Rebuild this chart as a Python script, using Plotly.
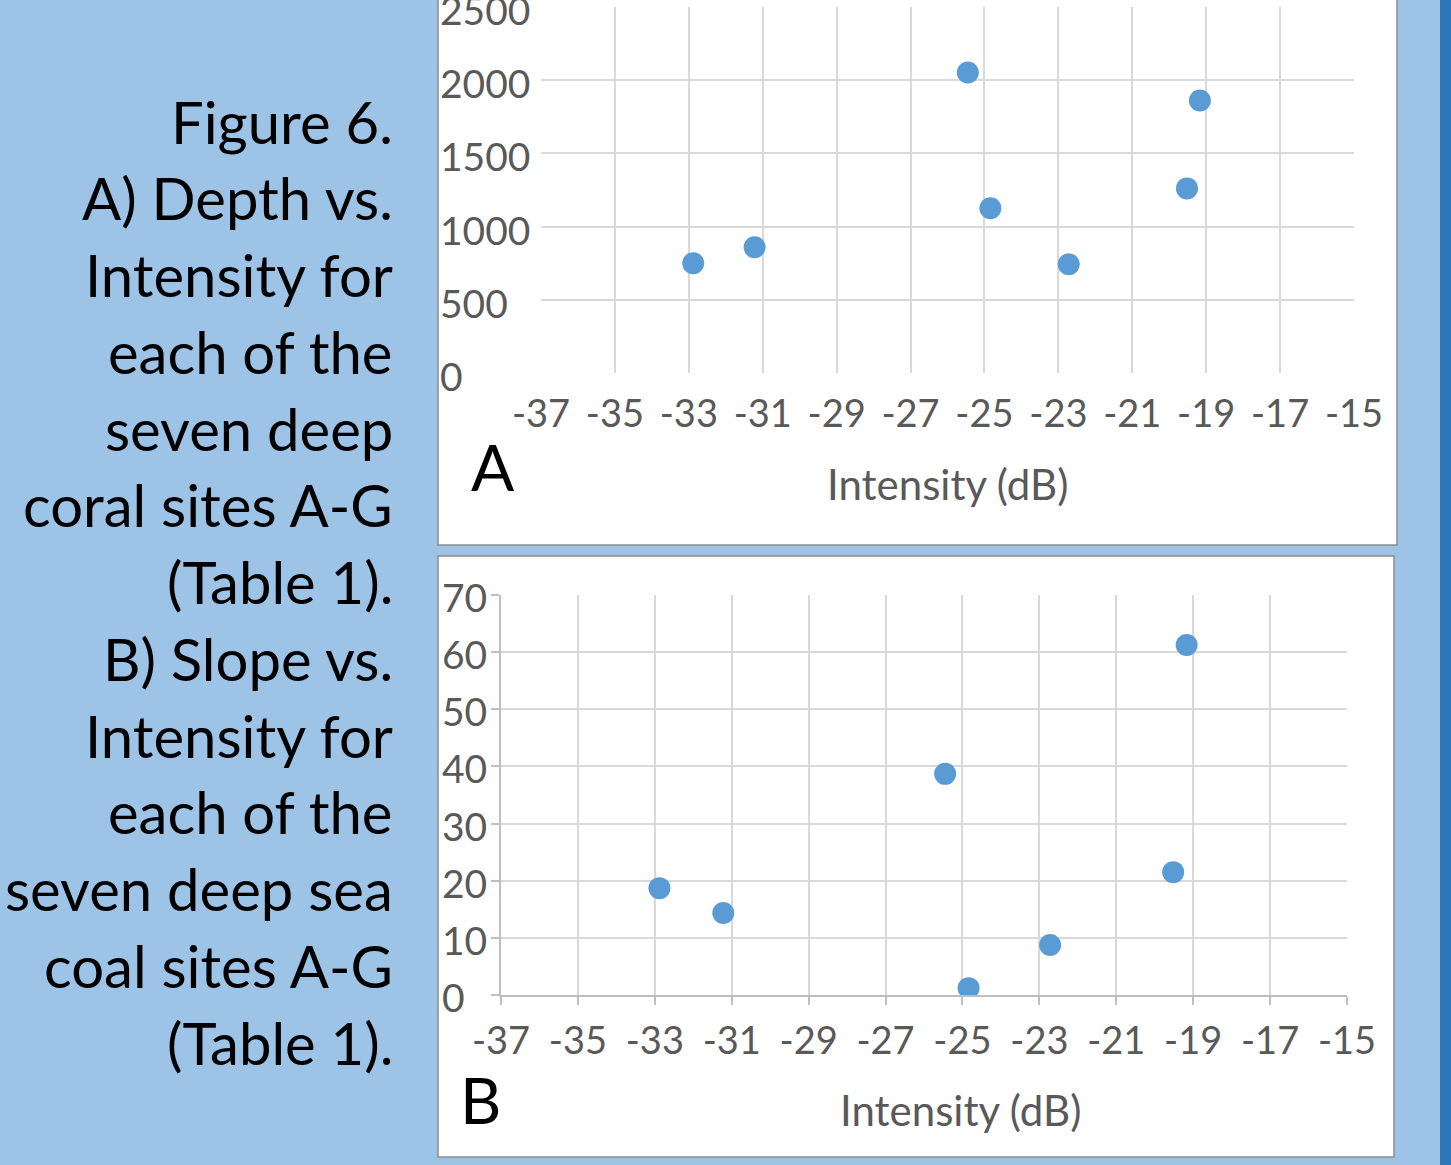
import plotly.graph_objects as go

W, H = 1451, 1165

intensity = [-32.88, -31.22, -25.45, -24.84, -22.72, -19.52, -19.17]
depth = [750, 859, 2052, 1125, 743, 1261, 1861]
slope = [18.7, 14.35, 38.7, 1.2, 8.75, 21.5, 61.25]

x_ticks = [-37, -35, -33, -31, -29, -27, -25, -23, -21, -19, -17, -15]
depth_ticks = [0, 500, 1000, 1500, 2000, 2500]
slope_ticks = [0, 10, 20, 30, 40, 50, 60, 70]

caption_lines = ["Figure 6.", "A) Depth vs.", "Intensity for", "each of the",
                 "seven deep", "coral sites A-G", "(Table 1).", "B) Slope vs.",
                 "Intensity for", "each of the", "seven deep sea", "coal sites A-G",
                 "(Table 1)."]
x_title = "Intensity (dB)"

BG = "#9DC3E6"
DARK = "#2E75B6"
DOT = "#5B9BD5"
GRID = "#D9D9D9"
TXT = "#595959"
FONT = "Lato"

def px(x):
    return x / W

def py(y):
    return 1 - y / H

fig = go.Figure()
fig.add_trace(go.Scatter(x=intensity, y=depth, mode="markers", xaxis="x", yaxis="y",
                         marker=dict(color=DOT, size=22), showlegend=False))
fig.add_trace(go.Scatter(x=intensity, y=slope, mode="markers", xaxis="x2", yaxis="y2",
                         marker=dict(color=DOT, size=22), showlegend=False))

common_x = dict(tickvals=x_ticks, ticktext=[str(v) for v in x_ticks],
                showgrid=True, gridcolor=GRID, gridwidth=1.5, zeroline=False,
                tickfont=dict(family=FONT, size=38, color=TXT), fixedrange=True,
                automargin=False)

shapes = [
    dict(type="rect", xref="paper", yref="paper", x0=px(1440), x1=1.0, y0=0, y1=1,
         fillcolor=DARK, line=dict(width=0), layer="below"),
    dict(type="rect", xref="paper", yref="paper", x0=px(438), x1=px(1397), y0=py(545), y1=py(-3),
         fillcolor="white", line=dict(color="#8C8C8C", width=1.5), layer="below"),
    dict(type="rect", xref="paper", yref="paper", x0=px(438), x1=px(1394), y0=py(1157), y1=py(556),
         fillcolor="white", line=dict(color="#8C8C8C", width=1.5), layer="below"),
]

annotations = []
for i, line in enumerate(caption_lines):
    annotations.append(dict(text=line, xref="paper", yref="paper", x=px(395),
                            y=py(121 + 76.75 * i), xanchor="right", yanchor="middle",
                            showarrow=False, font=dict(family=FONT, size=58, color="black")))
for v in depth_ticks:
    annotations.append(dict(text=str(v), xref="paper", yref="y", x=px(438), y=v,
                            xanchor="left", yanchor="middle", yshift=-3, showarrow=False,
                            font=dict(family=FONT, size=39, color=TXT)))
for v in slope_ticks:
    annotations.append(dict(text=str(v), xref="paper", yref="y2", x=px(440), y=v,
                            xanchor="left", yanchor="middle", yshift=-2, showarrow=False,
                            font=dict(family=FONT, size=39, color=TXT)))
annotations += [
    dict(text=x_title, xref="paper", yref="paper", x=px(947), y=py(484), xanchor="center",
         yanchor="middle", showarrow=False, font=dict(family=FONT, size=42, color=TXT)),
    dict(text=x_title, xref="paper", yref="paper", x=px(960), y=py(1110), xanchor="center",
         yanchor="middle", showarrow=False, font=dict(family=FONT, size=42, color=TXT)),
    dict(text="A", xref="paper", yref="paper", x=px(493), y=py(467), xanchor="center",
         yanchor="middle", showarrow=False, font=dict(family=FONT, size=64, color="black")),
    dict(text="B", xref="paper", yref="paper", x=px(480), y=py(1099), xanchor="center",
         yanchor="middle", showarrow=False, font=dict(family=FONT, size=64, color="black")),
]

fig.update_layout(
    width=W, height=H, margin=dict(l=0, r=0, t=0, b=0, pad=0, autoexpand=False),
    paper_bgcolor=BG, plot_bgcolor="rgba(0,0,0,0)",
    xaxis=dict(domain=[px(541), px(1354)], range=[-37, -15], anchor="y",
               showline=False, ticks="", ticklabelstandoff=15, **common_x),
    yaxis=dict(domain=[py(373), py(7)], range=[0, 2500], anchor="x", tickvals=depth_ticks,
               showticklabels=False, showgrid=True, gridcolor=GRID, gridwidth=1.5,
               zeroline=False, showline=False, fixedrange=True, automargin=False),
    xaxis2=dict(domain=[px(501), px(1347)], range=[-37, -15], anchor="y2",
                showline=True, linecolor="#BFBFBF", linewidth=1.5,
                ticks="outside", ticklen=8, tickcolor="#BFBFBF", tickwidth=1.5,
                ticklabelstandoff=4, **common_x),
    yaxis2=dict(domain=[py(995), py(595)], range=[0, 70], anchor="x2", tickvals=slope_ticks,
                showticklabels=False, showgrid=True, gridcolor=GRID, gridwidth=1.5,
                zeroline=False, showline=True, linecolor="#BFBFBF", linewidth=1.5,
                ticks="outside", ticklen=8, tickcolor="#BFBFBF", tickwidth=1.5,
                fixedrange=True, automargin=False),
    shapes=shapes, annotations=annotations,
)

fig.write_html("out.html", config={"displayModeBar": False},
               post_script="document.body.style.margin='0px';document.body.style.overflow='hidden';")
